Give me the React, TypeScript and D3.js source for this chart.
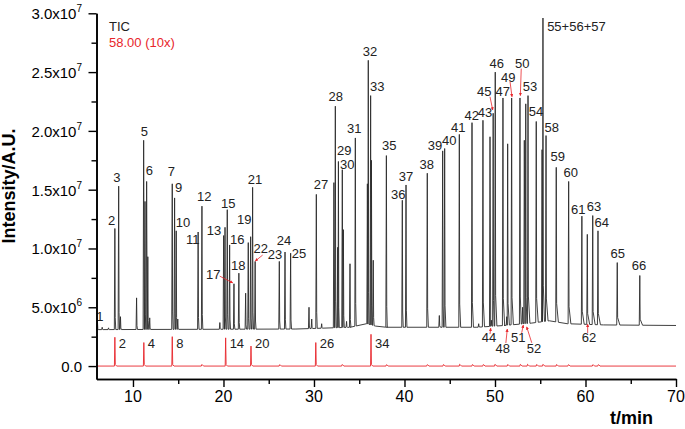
import { useEffect, useRef } from 'react';
import * as d3 from 'd3';

// TIC peaks: [retention time (min), apex intensity (x10^6)]
const ticPeaks: [number, number][] = [
    [6.07, 3.9], [6.6, 3.3], [7.3, 3.25], [8.0, 11.7], [8.42, 15.3], [8.62, 4.2],
    [10.4, 5.8], [11.18, 19.2], [11.33, 14.0], [11.51, 15.7], [11.64, 9.3], [11.85, 4.1],
    [14.34, 15.5], [14.6, 14.3], [14.78, 11.5], [14.95, 4.0], [17.2, 11.4], [17.62, 13.6],
    [19.6, 3.7], [20.02, 11.1], [20.17, 11.8], [20.42, 13.3], [20.68, 10.3], [21.16, 7.0],
    [21.7, 7.9], [22.45, 6.2], [22.74, 10.5], [23.0, 11.0], [23.22, 15.2], [23.5, 8.9],
    [26.17, 8.9], [26.8, 9.7], [27.42, 9.6], [29.45, 5.0], [29.75, 4.0], [30.26, 14.6],
    [30.85, 3.6], [32.2, 15.6], [32.36, 22.1], [32.62, 10.1], [32.7, 17.4], [33.13, 16.7],
    [33.25, 11.6], [33.6, 3.8], [33.98, 8.7], [34.57, 19.4], [35.9, 15.5], [36.0, 26.0],
    [36.26, 23.0], [36.35, 17.5], [36.55, 9.0], [38.0, 17.9], [39.76, 14.1], [40.17, 15.4],
    [42.52, 16.4], [43.85, 4.3], [44.22, 18.3], [44.44, 18.5], [46.06, 19.7], [47.46, 20.7],
    [48.2, 3.6], [48.67, 20.9], [49.45, 19.5], [49.6, 3.9], [49.8, 21.5], [50.03, 25.0],
    [50.88, 22.8], [51.3, 4.2], [51.4, 18.9], [51.84, 22.8], [52.76, 22.8], [53.05, 5.0],
    [53.24, 19.2], [53.4, 22.3], [53.65, 23.0], [54.56, 20.8], [55.2, 18.4], [55.3, 29.6],
    [55.64, 19.6], [56.77, 16.9], [58.14, 15.7], [59.6, 12.75], [60.2, 11.2], [60.8, 12.8],
    [61.38, 11.5], [63.51, 8.8], [66.0, 7.7]
];

// TIC baseline level: [t, intensity x10^6]
const ticBaseline: [number, number][] = [
    [5.97, 3.1], [28, 3.15], [34, 3.3], [35.8, 3.6], [36.8, 3.4], [38, 3.3], [48, 3.3],
    [51, 3.45], [54, 3.65], [56, 3.85], [58, 3.6], [62, 3.5], [70, 3.45]
];

// m/z 58.00 trace (10x)
const ionPeaks: [number, number][] = [
    [8.0, 2.45], [11.2, 2.0], [14.34, 2.5], [20.24, 2.4], [23.04, 1.7], [30.2, 2.0], [36.3, 2.7]
];
const ionPeakNames = ['2', '4', '8', '14', '20', '26', '34'];
const ionBlips: [number, number][] = [
    [17.6, 0.12], [26.2, 0.1], [33.1, 0.12], [38.0, 0.1], [42.5, 0.1], [44.3, 0.12], [46.1, 0.15],
    [47.5, 0.12], [48.7, 0.12], [50.0, 0.15], [51.4, 0.12], [52.8, 0.15], [53.6, 0.15], [54.6, 0.12],
    [55.3, 0.15], [56.8, 0.12], [58.1, 0.1], [60.8, 0.1], [61.4, 0.1]
];

// peak number labels: [text, t, intensity x10^6] (centre, baseline)
const peakLabels: [string, number, number][] = [
    ['1', 6.35, 3.83], ['2', 7.65, 11.99], ['3', 8.23, 15.65], ['5', 11.25, 19.56], ['6', 11.8, 16.24],
    ['7', 14.23, 16.16], ['9', 15.05, 14.8], ['10', 15.52, 11.82], ['11', 16.6, 10.37], ['12', 17.88, 14.03],
    ['13', 18.95, 11.14], ['15', 20.53, 13.44], ['16', 21.52, 10.37], ['17', 18.87, 7.4], ['18', 21.64, 8.16],
    ['19', 22.3, 12.07], ['21', 23.48, 15.48], ['22', 24.11, 9.61], ['23', 25.69, 9.1], ['24', 26.69, 10.29],
    ['25', 28.34, 9.18], ['27', 30.77, 15.05], ['28', 32.4, 22.53], ['29', 33.35, 17.94], ['30', 33.68, 16.75],
    ['31', 34.45, 19.81], ['32', 36.19, 26.36], ['33', 37.0, 23.38], ['35', 38.32, 18.37], ['36', 39.31, 14.2],
    ['37', 40.17, 15.73], ['38', 42.45, 16.75], ['39', 43.37, 18.37], ['40', 44.95, 18.79], ['41', 45.94, 19.9],
    ['42', 47.43, 20.92], ['43', 48.9, 21.17], ['45', 48.82, 22.96], ['46', 50.19, 25.34], ['47', 50.85, 22.96],
    ['49', 51.47, 24.15], ['50', 53.02, 25.34], ['53', 53.87, 23.38], ['54', 54.53, 21.26],
    ['55+56+57', 59.0, 28.49], ['58', 56.27, 19.9], ['59', 56.93, 17.43], ['60', 58.37, 16.07],
    ['61', 59.2, 12.93], ['63', 60.94, 13.18], ['64', 61.79, 11.82], ['65', 63.56, 9.18], ['66', 65.91, 8.16],
    ['44', 49.34, 2.04], ['48', 50.85, 1.11], ['51', 52.57, 2.04], ['52', 54.31, 1.11], ['62', 60.39, 2.04]
];

// red arrows: [fromT, fromI, toT, toI]
const peakArrows: [number, number, number, number][] = [
    [19.58, 7.65, 21.02, 7.08], [24.33, 9.44, 23.51, 8.93], [49.45, 22.9, 49.75, 21.77],
    [51.66, 24.2, 51.88, 22.9], [52.9, 25.3, 52.8, 23.0], [49.45, 2.72, 49.53, 3.23],
    [51.2, 1.96, 51.36, 3.15], [52.95, 2.83, 53.13, 3.49], [54.06, 1.98, 53.5, 3.34],
    [60.24, 2.8, 60.24, 3.57]
];

const xMajor = [10, 20, 30, 40, 50, 60, 70];
const xMinor = [15, 25, 35, 45, 55, 65];
const yMajor = [0, 5, 10, 15, 20, 25, 30];
const yMinor = [2.5, 7.5, 12.5, 17.5, 22.5, 27.5];
const yTickLabels: [string, string][] = [
    ['0.0', ''], ['5.0x10', '6'], ['1.0x10', '7'], ['1.5x10', '7'], ['2.0x10', '7'], ['2.5x10', '7'], ['3.0x10', '7']
];

const FONT = 'Liberation Sans, Arial, Helvetica, sans-serif';
const RED = '#e8262b';

const App = () => {
    const svgRef = useRef<SVGSVGElement>(null);

    useEffect(() => {
        if (!svgRef.current) return;
        const svg = d3.select(svgRef.current);
        svg.selectAll('*').remove();

        const x = d3.scaleLinear().domain([5.97, 70]).range([96.5, 676]);
        const y = d3.scaleLinear().domain([-1.1, 30]).range([379, 13.3]);
        const base = d3.scaleLinear()
            .domain(ticBaseline.map(d => d[0]))
            .range(ticBaseline.map(d => d[1]));

        const line = d3.line<[number, number]>()
            .x(d => x(d[0]))
            .y(d => y(d[1]));

        // build TIC trace: baseline knots plus narrow tailing peaks
        const groups: [number, number][][] = [];
        ticBaseline.forEach(k => groups.push([k]));
        ticPeaks.forEach((p, i) => {
            const [t, h] = p;
            const prev = i > 0 ? ticPeaks[i - 1][0] : -Infinity;
            const next = i < ticPeaks.length - 1 ? ticPeaks[i + 1][0] : Infinity;
            const tail = 0.1 + Math.max(0, t - 40) * 0.008;
            const lf = Math.max(t - 0.06, (prev + t) / 2);
            const rf = Math.min(t + tail, (t + next) / 2);
            const b = base(t);
            const pts: [number, number][] = [[lf, base(lf)], [t, h]];
            if (rf - t > 0.08) pts.push([t + 0.04, b + (h - b) * 0.12]);
            pts.push([rf, base(rf)]);
            groups.push(pts);
        });
        groups.sort((a, b) => a[0][0] - b[0][0]);
        const ticPts = groups.flat();

        svg.append('path')
            .datum(ticPts)
            .attr('d', line)
            .attr('fill', 'none')
            .attr('stroke', '#2b2b2b')
            .attr('stroke-width', 0.9)
            .attr('stroke-linejoin', 'round');

        // ion trace
        const ionGroups: [number, number][][] = [[[5.97, 0]], [[70, 0]]];
        ionPeaks.concat(ionBlips).forEach(([t, h]) => {
            ionGroups.push([[t - 0.05, 0], [t, h], [t + 0.05, 0.12], [t + 0.2, 0]]);
        });
        ionGroups.sort((a, b) => a[0][0] - b[0][0]);
        svg.append('path')
            .datum(ionGroups.flat())
            .attr('d', line)
            .attr('fill', 'none')
            .attr('stroke', RED)
            .attr('stroke-width', 0.9);

        svg.selectAll('.ionlab')
            .data(ionPeaks)
            .enter()
            .append('text')
            .attr('x', d => x(d[0]) + 4)
            .attr('y', 348)
            .attr('font-size', 13)
            .attr('font-family', FONT)
            .attr('fill', '#222')
            .text((_, i) => ionPeakNames[i]);

        // arrows
        svg.append('defs').append('marker')
            .attr('id', 'ah')
            .attr('viewBox', '0 0 10 10')
            .attr('refX', 9).attr('refY', 5)
            .attr('markerWidth', 4).attr('markerHeight', 4)
            .attr('orient', 'auto')
            .append('path')
            .attr('d', 'M0,0L10,5L0,10z')
            .attr('fill', RED);

        svg.selectAll('.arrow')
            .data(peakArrows)
            .enter()
            .append('line')
            .attr('x1', d => x(d[0])).attr('y1', d => y(d[1]))
            .attr('x2', d => x(d[2])).attr('y2', d => y(d[3]))
            .attr('stroke', RED)
            .attr('stroke-width', 0.8)
            .attr('marker-end', 'url(#ah)');

        svg.selectAll('.plab')
            .data(peakLabels)
            .enter()
            .append('text')
            .attr('x', d => x(d[1]))
            .attr('y', d => y(d[2]))
            .attr('text-anchor', 'middle')
            .attr('font-size', 13)
            .attr('font-family', FONT)
            .attr('fill', '#222')
            .text(d => d[0]);

        // axes
        const axisStyle = (g: d3.Selection<SVGGElement, unknown, null, undefined>) => {
            g.selectAll('path').attr('stroke', '#000').attr('stroke-width', 1.6);
            g.selectAll('line').attr('stroke', '#000').attr('stroke-width', 1.4);
        };

        svg.append('g')
            .attr('transform', 'translate(0,379)')
            .call(d3.axisBottom(x).tickValues(xMinor).tickSize(5).tickFormat(() => '').tickSizeOuter(0))
            .call(axisStyle);
        svg.append('g')
            .attr('transform', 'translate(0,379)')
            .call(d3.axisBottom(x).tickValues(xMajor).tickSize(8).tickFormat(() => '').tickSizeOuter(0))
            .call(axisStyle);
        svg.append('g')
            .attr('transform', 'translate(96.5,0)')
            .call(d3.axisLeft(y).tickValues(yMinor).tickSize(5).tickFormat(() => '').tickSizeOuter(0))
            .call(axisStyle);
        svg.append('g')
            .attr('transform', 'translate(96.5,0)')
            .call(d3.axisLeft(y).tickValues(yMajor).tickSize(8).tickFormat(() => '').tickSizeOuter(0))
            .call(axisStyle);

        svg.selectAll('.xl')
            .data(xMajor)
            .enter()
            .append('text')
            .attr('x', d => x(d))
            .attr('y', 402)
            .attr('text-anchor', 'middle')
            .attr('font-size', 16)
            .attr('font-family', FONT)
            .text(d => d);

        yMajor.forEach((v, i) => {
            const [mant, exp] = yTickLabels[i];
            const t = svg.append('text')
                .attr('x', 82)
                .attr('y', y(v) + 6)
                .attr('text-anchor', 'end')
                .attr('font-size', 15)
                .attr('font-family', FONT);
            t.append('tspan').text(mant);
            if (exp) {
                t.append('tspan').attr('dy', -7).attr('font-size', 10).text(exp);
            }
        });

        svg.append('text')
            .attr('transform', 'translate(15,186) rotate(-90)')
            .attr('text-anchor', 'middle')
            .attr('font-size', 18)
            .attr('font-weight', 'bold')
            .attr('font-family', FONT)
            .text('Intensity/A.U.');

        svg.append('text')
            .attr('x', 653)
            .attr('y', 424)
            .attr('text-anchor', 'end')
            .attr('font-size', 18)
            .attr('font-weight', 'bold')
            .attr('font-family', FONT)
            .text('t/min');

        // legend
        svg.append('text')
            .attr('x', 109).attr('y', 30.5)
            .attr('font-size', 13).attr('font-family', FONT).attr('fill', '#222')
            .text('TIC');
        svg.append('text')
            .attr('x', 109).attr('y', 46.5)
            .attr('font-size', 13).attr('font-family', FONT).attr('fill', RED)
            .text('58.00 (10x)');
    }, []);

    return (
        <svg ref={svgRef} width={685} height={429}
            style={{ position: 'absolute', left: 0, top: 0, background: '#fff' }} />
    );
};

export default App;
